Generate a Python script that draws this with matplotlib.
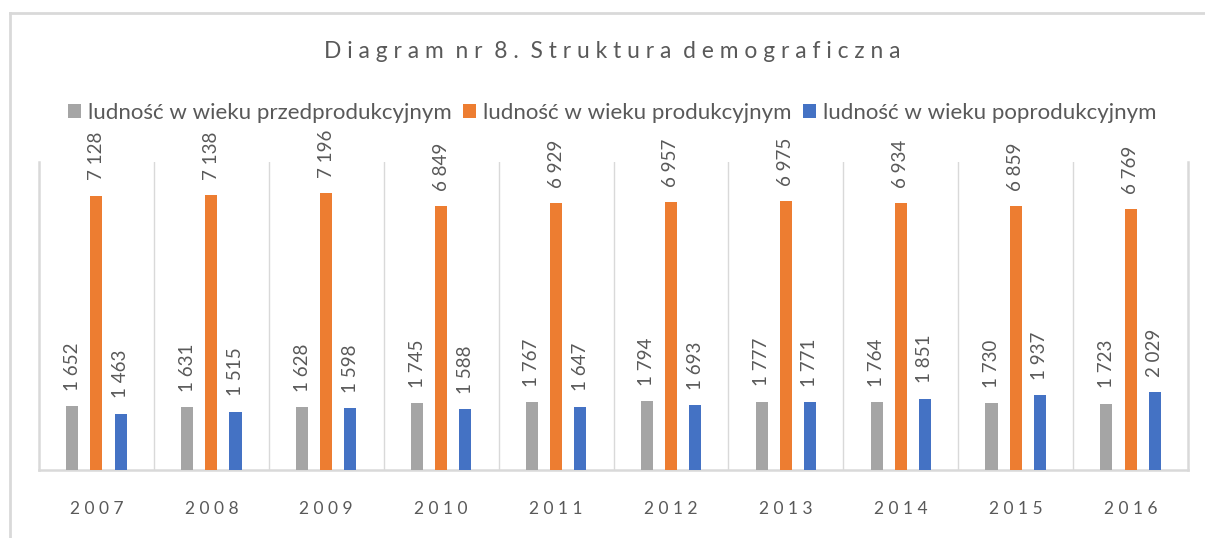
import matplotlib
matplotlib.use("Agg")
import matplotlib.pyplot as plt
import numpy as np

years = ["2007", "2008", "2009", "2010", "2011", "2012", "2013", "2014", "2015", "2016"]
pre_working = [1652, 1631, 1628, 1745, 1767, 1794, 1777, 1764, 1730, 1723]
working = [7128, 7138, 7196, 6849, 6929, 6957, 6975, 6934, 6859, 6769]
post_working = [1463, 1515, 1598, 1588, 1647, 1693, 1771, 1851, 1937, 2029]
series_names = [
    "ludność w wieku przedprodukcyjnym",
    "ludność w wieku produkcyjnym",
    "ludność w wieku poprodukcyjnym",
]
colors = ["#A5A5A5", "#ED7D31", "#4472C4"]

plt.rcParams["font.family"] = ["Lato", "DejaVu Sans"]
TXT = "#595959"
GRID = "#D9D9D9"


def spaced(s, gap=" ", word_gap="  "):
    return word_gap.join(gap.join(w) for w in s.split(" "))


fig = plt.figure(figsize=(12.05, 5.38), dpi=100)
ax = fig.add_axes([39 / 1205, 1 - 470 / 538, (1188 - 39) / 1205, (470 - 162) / 538])

x = np.arange(len(years))
width = 0.105
offsets = [-0.21, 0, 0.21]
for vals, name, col, off in zip([pre_working, working, post_working], series_names, colors, offsets):
    bars = ax.bar(x + off, vals, width, color=col, label=name, zorder=3)
    for b, v in zip(bars, vals):
        ax.annotate(f"{v:,}".replace(",", " "),
                    (b.get_x() + b.get_width() / 2, b.get_height()),
                    xytext=(0, 11), textcoords="offset points",
                    rotation=90, ha="center", va="bottom",
                    fontsize=13.5, color=TXT)

ax.set_xlim(-0.5, len(years) - 0.5)
ax.set_ylim(0, 8000)
ax.set_yticks([])
for b in np.arange(0.5, len(years) - 0.5, 1):
    ax.axvline(b, color=GRID, lw=1, zorder=1)
ax.set_xticks(x)
ax.set_xticklabels([spaced(y) for y in years], fontsize=12.5, color=TXT)
ax.tick_params(axis="x", length=0, pad=22)
ax.spines["top"].set_visible(False)
for s in ["left", "right", "bottom"]:
    ax.spines[s].set_color(GRID)
    ax.spines[s].set_linewidth(1.8)

fig.text(0.508, 1 - 52 / 538, spaced("Diagram nr 8. Struktura demograficzna"),
         ha="center", va="center", fontsize=16.4, color=TXT)

fig.legend(loc="center", bbox_to_anchor=(0.508, 1 - 113 / 538), ncol=3, frameon=False,
           fontsize=16, handlelength=0.6, handleheight=0.6, handletextpad=0.3,
           columnspacing=0.5, labelcolor=TXT)

# outer chart border (only left and top edges fall inside the image)
fig.add_artist(plt.Line2D([10 / 1205, 10 / 1205], [0, 1 - 13 / 538], color=GRID, lw=2,
                          transform=fig.transFigure))
fig.add_artist(plt.Line2D([10 / 1205, 1], [1 - 13 / 538, 1 - 13 / 538], color=GRID, lw=2,
                          transform=fig.transFigure))

fig.savefig("out.png", dpi=100)
